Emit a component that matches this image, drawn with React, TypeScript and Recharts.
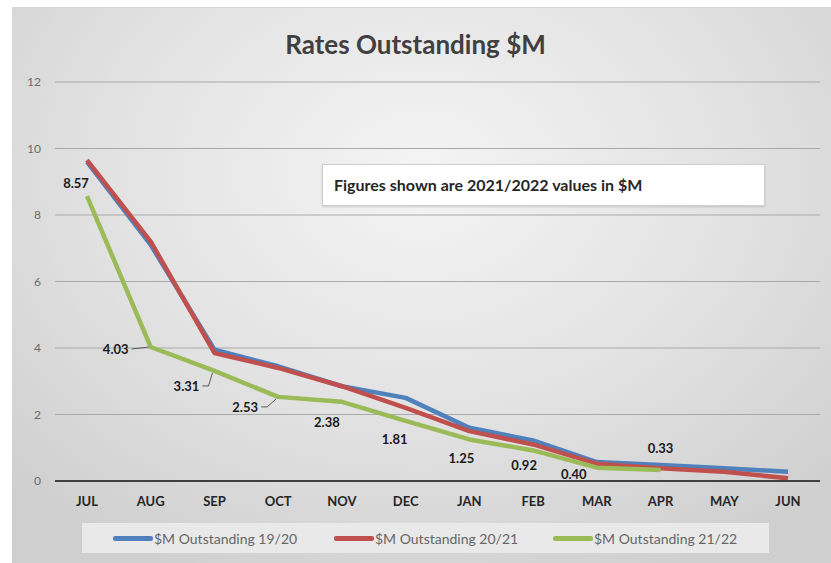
import React from "react";
import {
	LineChart,
	Line,
	XAxis,
	YAxis,
	CartesianGrid,
	LabelList,
} from "recharts";

// values, $M
const MONTHS = ["JUL", "AUG", "SEP", "OCT", "NOV", "DEC", "JAN", "FEB", "MAR", "APR", "MAY", "JUN"];
const OUT_1920 = [9.6, 7.1, 3.95, 3.45, 2.85, 2.5, 1.6, 1.22, 0.57, 0.48, 0.38, 0.28];
const OUT_2021 = [9.65, 7.2, 3.85, 3.4, 2.85, 2.2, 1.5, 1.1, 0.52, 0.38, 0.28, 0.08];
const OUT_2122 = [8.57, 4.03, 3.31, 2.53, 2.38, 1.81, 1.25, 0.92, 0.4, 0.33, null, null];
const Y_TICKS = [0, 2, 4, 6, 8, 10, 12];

const TITLE = "Rates Outstanding $M";
const NOTE = "Figures shown are 2021/2022 values in $M";

const SERIES = [
	{ key: "o1920", name: "$M Outstanding 19/20", color: "#4f81bd" },
	{ key: "o2021", name: "$M Outstanding 20/21", color: "#c0504d" },
	{ key: "o2122", name: "$M Outstanding 21/22", color: "#9bbb59" },
];

const data = MONTHS.map((m, i) => ({
	month: m,
	o1920: OUT_1920[i],
	o2021: OUT_2021[i],
	o2122: OUT_2122[i],
}));

const FONT = "Lato, 'Open Sans', sans-serif";

// label placement for the 21/22 series (dx, dy from the point, leader line or not)
const LABEL_POS = [
	{ dx: -11, dy: -13, leader: false },
	{ dx: -35, dy: 2, leader: true },
	{ dx: -28, dy: 15, leader: true },
	{ dx: -33, dy: 10, leader: true },
	{ dx: -15, dy: 20, leader: false },
	{ dx: -11, dy: 18, leader: false },
	{ dx: -8, dy: 19, leader: false },
	{ dx: -9, dy: 15, leader: false },
	{ dx: -23, dy: 6, leader: false },
	{ dx: 0, dy: -22, leader: false },
];

function GreenLabel(props: any) {
	const { x, y, value, index } = props;
	if (value == null || x == null) return null;
	const p = LABEL_POS[index] || { dx: 0, dy: -12, leader: false };
	const cx = x + p.dx;
	const cy = y + p.dy;
	let leader = null;
	if (p.leader) {
		const sx = cx + 16;
		if (Math.abs(p.dy) < 4) {
			leader = <line x1={sx} y1={cy} x2={x - 2} y2={y} stroke="#595959" strokeWidth={1} />;
		} else {
			leader = (
				<polyline
					points={`${sx},${cy} ${sx + 6},${cy} ${x - 2},${y + 2}`}
					fill="none"
					stroke="#595959"
					strokeWidth={1}
				/>
			);
		}
	}
	return (
		<g>
			{leader}
			<text
				x={cx}
				y={cy}
				textAnchor="middle"
				dominantBaseline="central"
				fontFamily={FONT}
				fontWeight={700}
				fontSize={13}
				fill="#1a1a1a"
			>
				{Number(value).toFixed(2)}
			</text>
		</g>
	);
}

export default function App() {
	return (
		<div style={{ position: "absolute", left: 0, top: 0, width: 831, height: 563, background: "#fff", overflow: "hidden" }}>
			<div
				style={{
					position: "absolute",
					left: 12,
					top: 7,
					width: 819,
					height: 556,
					background:
						"radial-gradient(ellipse 70% 80% at 50% 30%, #f4f4f4 0%, #e2e2e2 55%, #cfcfcf 100%)",
					borderTop: "1px solid #d8d8d8",
				}}
			/>
			<div
				style={{
					position: "absolute",
					top: 28,
					left: 0,
					width: 831,
					textAlign: "center",
					fontFamily: FONT,
					fontWeight: 700,
					fontSize: 26,
					color: "#404040",
				}}
			>
				{TITLE}
			</div>
			<div style={{ position: "absolute", left: 0, top: 0 }}>
				<LineChart
					width={831}
					height={563}
					data={data}
					margin={{ top: 82, right: 11, left: 0, bottom: 52 }}
				>
					<CartesianGrid vertical={false} stroke="#a9a9a9" strokeWidth={1} />
					<XAxis
						dataKey="month"
						height={30}
						padding={{ left: 32, right: 32 }}
						axisLine={{ stroke: "#404040", strokeWidth: 2 }}
						tickLine={false}
						tickSize={0}
						tickMargin={16}
						tick={{ fontFamily: FONT, fontWeight: 700, fontSize: 13, fill: "#262626" }}
					/>
					<YAxis
						width={55}
						domain={[0, 12]}
						ticks={Y_TICKS}
						axisLine={false}
						tickLine={false}
						tickSize={0}
						tickMargin={14}
						tick={{ fontFamily: FONT, fontSize: 12, fill: "#6b6b6b" }}
					/>
					{SERIES.map((s) => (
						<Line
							key={s.key}
							type="linear"
							dataKey={s.key}
							name={s.name}
							stroke={s.color}
							strokeWidth={4.5}
							strokeLinejoin="round"
							dot={false}
							activeDot={false}
							connectNulls={false}
							isAnimationActive={false}
						>
							{s.key === "o2122" && <LabelList dataKey="o2122" content={GreenLabel} />}
						</Line>
					))}
				</LineChart>
			</div>
			<div
				style={{
					position: "absolute",
					left: 322,
					top: 164,
					width: 430,
					height: 40,
					background: "#ffffff",
					border: "1px solid #cfcfcf",
					boxShadow: "0 1px 2px rgba(0,0,0,0.15)",
					fontFamily: FONT,
					fontWeight: 700,
					fontSize: 16,
					color: "#262626",
					lineHeight: "40px",
					paddingLeft: 11,
					boxSizing: "content-box",
				}}
			>
				{NOTE}
			</div>
			<div
				style={{
					position: "absolute",
					left: 82,
					top: 523,
					width: 687,
					height: 30,
					background: "#e9e9e9",
					display: "flex",
					alignItems: "center",
					fontFamily: FONT,
					fontSize: 14,
					color: "#666666",
				}}
			>
				{SERIES.map((s, i) => (
					<div
						key={s.key}
						style={{ position: "absolute", left: [31, 252, 471][i], display: "flex", alignItems: "center" }}
					>
						<div style={{ width: 40, height: 5, borderRadius: 2, background: s.color }} />
						<span style={{ marginLeft: 1 }}>{s.name}</span>
					</div>
				))}
			</div>
		</div>
	);
}
